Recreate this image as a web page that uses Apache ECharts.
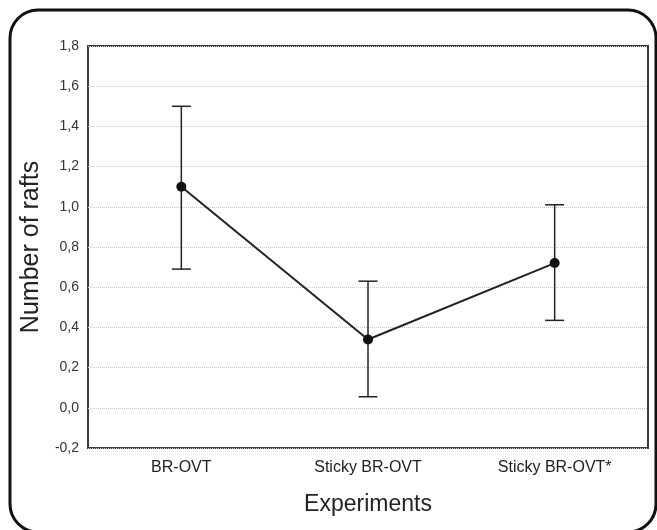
<!DOCTYPE html>
<html>
<head>
<meta charset="utf-8">
<script src="https://cdn.jsdelivr.net/npm/echarts@6/dist/echarts.min.js"></script>
<style>
  html, body { margin: 0; padding: 0; background: #fff; }
  #chart { width: 657px; height: 530px; }
</style>
</head>
<body>
<div id="chart"></div>
<script>
var experiments = ['BR-OVT', 'Sticky BR-OVT', 'Sticky BR-OVT*'];
var means = [1.10, 0.34, 0.72];
var upper = [1.50, 0.63, 1.01];
var lower = [0.69, 0.055, 0.435];

var dom = document.getElementById('chart');
var chart = echarts.init(dom);
var option;

var errData = experiments.map(function (name, i) {
  return [i, lower[i], upper[i]];
});

option = {
  animation: false,
  textStyle: { fontFamily: 'Liberation Sans, Arial, sans-serif' },
  graphic: [{
    type: 'rect',
    shape: { x: 10, y: 10, width: 646, height: 522, r: 28 },
    style: { fill: 'none', stroke: '#111', lineWidth: 3 },
    z: 100
  }],
  grid: {
    left: 88, right: 9, top: 46, bottom: 82,
    show: true, borderColor: '#3a3a3a', borderWidth: 2
  },
  xAxis: {
    type: 'category',
    data: experiments,
    name: 'Experiments',
    nameLocation: 'middle',
    nameGap: 45,
    nameTextStyle: { fontSize: 23, color: '#222' },
    axisLine: { show: false },
    axisTick: { show: false },
    axisLabel: { fontSize: 16, color: '#222', margin: 12 }
  },
  yAxis: {
    type: 'value',
    min: -0.2, max: 1.8, interval: 0.2,
    name: 'Number of rafts',
    nameLocation: 'middle',
    nameGap: 40,
    nameTextStyle: { fontSize: 25, color: '#222' },
    axisLine: { show: false },
    axisTick: { show: false },
    axisLabel: {
      fontSize: 14, color: '#333', margin: 9,
      formatter: function (v) { return v.toFixed(1).replace('.', ','); }
    },
    splitLine: { lineStyle: { color: '#c8c8c8', type: 'dotted', width: 1 } }
  },
  series: [
    {
      type: 'custom',
      data: errData,
      renderItem: function (params, api) {
        var x = api.value(0);
        var lo = api.coord([x, api.value(1)]);
        var hi = api.coord([x, api.value(2)]);
        var half = 9.5;
        var st = { stroke: '#222', lineWidth: 1.5 };
        return {
          type: 'group',
          children: [
            { type: 'line', shape: { x1: hi[0], y1: hi[1], x2: lo[0], y2: lo[1] }, style: st },
            { type: 'line', shape: { x1: hi[0] - half, y1: hi[1], x2: hi[0] + half, y2: hi[1] }, style: st },
            { type: 'line', shape: { x1: lo[0] - half, y1: lo[1], x2: lo[0] + half, y2: lo[1] }, style: st }
          ]
        };
      },
      z: 2
    },
    {
      type: 'line',
      data: means,
      symbol: 'circle',
      symbolSize: 10,
      itemStyle: { color: '#111' },
      lineStyle: { color: '#222', width: 2 },
      z: 3
    }
  ]
};

option && chart.setOption(option);
</script>
</body>
</html>
